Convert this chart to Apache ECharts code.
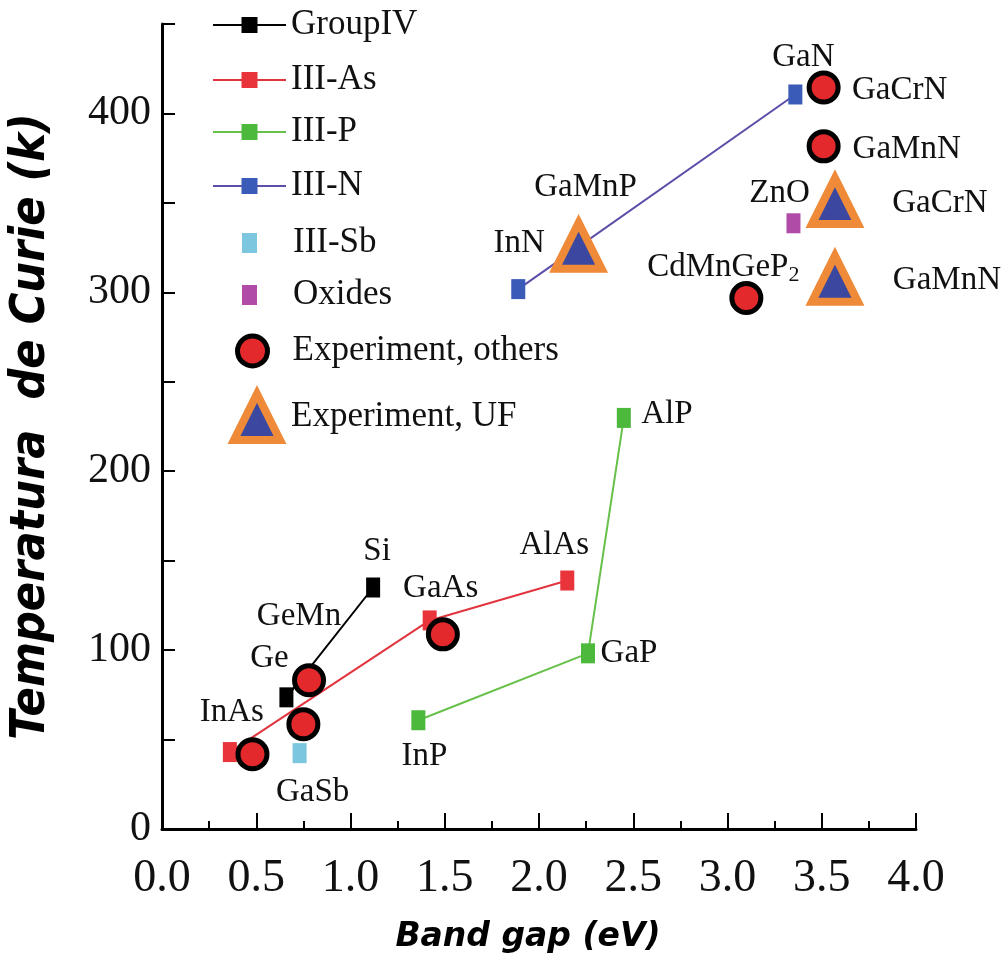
<!DOCTYPE html>
<html><head><meta charset="utf-8">
<script src="https://cdn.jsdelivr.net/npm/echarts@6/dist/echarts.min.js"></script>
<style>html,body{margin:0;padding:0;background:#fff}#c{width:1008px;height:965px}</style>
</head><body><div id="c"></div>
<script>
// ---------- data ----------
const groupIVNames = ['Ge', 'Si'];
const groupIVGap = [0.66, 1.12];
const groupIVTc = [73.6, 135];

const iiiAsNames = ['InAs', 'GaAs', 'AlAs'];
const iiiAsGap = [0.36, 1.42, 2.15];
const iiiAsTc = [43, 116.6, 138.9];

const iiiPNames = ['InP', 'GaP', 'AlP'];
const iiiPGap = [1.36, 2.26, 2.45];
const iiiPTc = [60.8, 98.2, 229.8];

const iiiNNames = ['InN', 'GaN'];
const iiiNGap = [1.89, 3.36];
const iiiNTc = [301.8, 410.6];

const iiiSbNames = ['GaSb'];
const iiiSbGap = [0.73];
const iiiSbTc = [42.4];

const oxideNames = ['ZnO'];
const oxideGap = [3.35];
const oxideTc = [338.6];

const expOthersNames = ['', '', 'GeMn', '', 'CdMnGeP2', 'GaCrN', 'GaMnN'];
const expOthersGap = [0.48, 0.75, 0.78, 1.49, 3.10, 3.51, 3.51];
const expOthersTc = [41.8, 58.6, 83.1, 108.8, 296.8, 414.5, 381.6];

const expUFNames = ['GaMnP', 'GaCrN', 'GaMnN'];
const expUFGap = [2.21, 3.57, 3.57];
const expUFTc = [326, 351, 307.6];

const seriesNames = ['GroupIV', 'III-As', 'III-P', 'III-N', 'III-Sb', 'Oxides', 'Experiment, others', 'Experiment, UF'];
const xTickLabels = ['0.0', '0.5', '1.0', '1.5', '2.0', '2.5', '3.0', '3.5', '4.0'];
const yTickLabels = ['0', '100', '200', '300', '400'];

// ---------- style ----------
const SERIF = "'Liberation Serif', 'Times New Roman', serif";
const labelOffsets = {
  'GroupIV|Ge': [-17, -39], 'GroupIV|Si': [4, -36],
  'III-As|InAs': [2, -40], 'III-As|GaAs': [11, -32], 'III-As|AlAs': [-13, -35],
  'III-P|InP': [6, 36], 'III-P|GaP': [41, 0], 'III-P|AlP': [43, -4],
  'III-N|InN': [1, -46], 'III-N|GaN': [8, -37],
  'III-Sb|GaSb': [13, 39], 'Oxides|ZnO': [-14, -30],
  'Experiment, others|GeMn': [-10, -64], 'Experiment, others|CdMnGeP2': [-23, -31],
  'Experiment, others|GaCrN': [76, 3], 'Experiment, others|GaMnN': [83, 3],
  'Experiment, UF|GaMnP': [7, -58], 'Experiment, UF|GaCrN': [105, 2], 'Experiment, UF|GaMnN': [112, 2]
};
const labelFormatters = { 'CdMnGeP2': 'CdMnGeP{s|2}' };

const labelBase = {
  show: true, color: '#111', fontFamily: SERIF, fontSize: 33,
  align: 'center', verticalAlign: 'middle',
  textBorderWidth: 0, textShadowBlur: 0,
  rich: { s: { fontFamily: SERIF, fontSize: 22, color: '#111', padding: [16, 0, 0, 0] } }
};

function points(series, names, xs, ys) {
  return xs.map((x, i) => {
    const nm = names[i];
    const off = labelOffsets[series + '|' + nm];
    return {
      name: nm,
      value: [x, ys[i]],
      label: nm ? {
        show: true, position: ['50%', '50%'], offset: off || [0, 0],
        color: '#111', align: 'center', verticalAlign: 'middle',
        formatter: labelFormatters[nm] || '{b}'
      } : { show: false }
    };
  });
}

function lineSeries(name, names, xs, ys, lineColor, symColor) {
  return {
    name, type: 'line', data: points(name, names, xs, ys),
    symbol: 'rect', symbolSize: [14, 20], showSymbol: true,
    lineStyle: { color: lineColor, width: 2 },
    itemStyle: { color: symColor, opacity: 1 },
    label: labelBase, z: 2, emphasis: { disabled: true }
  };
}
function scatterSeries(name, names, xs, ys, extra) {
  return Object.assign({
    name, type: 'scatter', data: points(name, names, xs, ys),
    label: labelBase, emphasis: { disabled: true }
  }, extra);
}

const legendText = { fontFamily: SERIF, fontSize: 35, color: '#111', lineHeight: 40 };
function legend(name, top, left, w, h, padLeft, itemStyle) {
  const l = {
    data: [name], top, left, itemWidth: w, itemHeight: h, padding: 0,
    selectedMode: false, orient: 'vertical',
    textStyle: Object.assign({}, legendText, { padding: [0, 0, 0, padLeft] })
  };
  if (itemStyle) l.itemStyle = itemStyle;
  return l;
}

const option = {
  animation: false,
  backgroundColor: '#fff',
  grid: { left: 161, right: 92, top: 24, bottom: 136 },
  legend: [
    legend('GroupIV', 5, 212, 73, 20, 0),
    legend('III-As', 60, 212, 73, 20, 0),
    legend('III-P', 112, 212, 73, 20, 0),
    legend('III-N', 166, 212, 73, 20, 0),
    legend('III-Sb', 223, 242, 15, 20, 31),
    legend('Oxides', 275, 242, 15, 20, 31),
    legend('Experiment, others', 331, 235, 36, 30, 17, { borderColor: '#000', borderWidth: 5 }),
    legend('Experiment, UF', 390, 230, 46, 46, 6, { borderColor: '#ee8a38', borderWidth: 8, borderJoin: 'miter' })
  ],
  xAxis: {
    type: 'value', min: 0, max: 4, interval: 0.5,
    name: 'Band gap (eV)', nameLocation: 'middle', nameGap: 92,
    nameTextStyle: { fontFamily: "'DejaVu Sans', sans-serif", fontWeight: 'bold', fontStyle: 'italic', fontSize: 33, color: '#000', padding: [0, 22, 0, 0] },
    axisLine: { show: true, onZero: false, lineStyle: { color: '#000', width: 3 } },
    axisTick: { show: true, inside: true, length: 16, lineStyle: { color: '#000', width: 2 } },
    minorTick: { show: true, splitNumber: 2, length: 8, lineStyle: { color: '#000', width: 2 } },
    splitLine: { show: false },
    axisLabel: {
      margin: 27, color: '#111', fontFamily: SERIF, fontSize: 46,
      formatter: v => xTickLabels[Math.round(v * 2)] || ''
    }
  },
  yAxis: {
    type: 'value', min: 0, max: 450, interval: 50,
    name: 'Temperatura  de Curie (k)', nameLocation: 'middle', nameGap: 106,
    nameTextStyle: { fontFamily: "'DejaVu Sans Condensed', 'Liberation Sans Narrow', 'DejaVu Sans', sans-serif", fontWeight: 'bold', fontStyle: 'italic', fontSize: 48, color: '#000' },
    axisLine: { show: true, onZero: false, lineStyle: { color: '#000', width: 3 } },
    axisTick: { show: true, inside: true, length: 13, lineStyle: { color: '#000', width: 2 } },
    splitLine: { show: false },
    axisLabel: {
      margin: 11, color: '#111', fontFamily: SERIF, fontSize: 42,
      formatter: v => (v % 100 === 0 ? (yTickLabels[v / 100] || '') : '')
    }
  },
  series: [
    lineSeries('GroupIV', groupIVNames, groupIVGap, groupIVTc, '#000', '#000'),
    lineSeries('III-As', iiiAsNames, iiiAsGap, iiiAsTc, '#e2343e', '#e8343a'),
    lineSeries('III-P', iiiPNames, iiiPGap, iiiPTc, '#66c04a', '#4cb83c'),
    lineSeries('III-N', iiiNNames, iiiNGap, iiiNTc, '#5a4ea8', '#3a5cb8'),
    scatterSeries('III-Sb', iiiSbNames, iiiSbGap, iiiSbTc, {
      symbol: 'rect', symbolSize: [14, 20], itemStyle: { color: '#7cc6e0', opacity: 1 }, z: 2
    }),
    scatterSeries('Oxides', oxideNames, oxideGap, oxideTc, {
      symbol: 'rect', symbolSize: [14, 20], itemStyle: { color: '#b04ca8', opacity: 1 }, z: 2
    }),
    scatterSeries('Experiment, others', expOthersNames, expOthersGap, expOthersTc, {
      symbol: 'circle', symbolSize: 29,
      itemStyle: { color: '#e3292c', borderColor: '#000', borderWidth: 5, opacity: 1 }, z: 3
    }),
    scatterSeries('Experiment, UF', expUFNames, expUFGap, expUFTc, {
      symbol: 'triangle', symbolSize: [46, 46],
      itemStyle: { color: '#3c48a0', borderColor: '#ee8a38', borderWidth: 8, borderJoin: 'miter', opacity: 1 }, z: 4
    })
  ]
};

const chart = echarts.init(document.getElementById('c'), null, { renderer: 'canvas' });
chart.setOption(option);
</script>
</body></html>
